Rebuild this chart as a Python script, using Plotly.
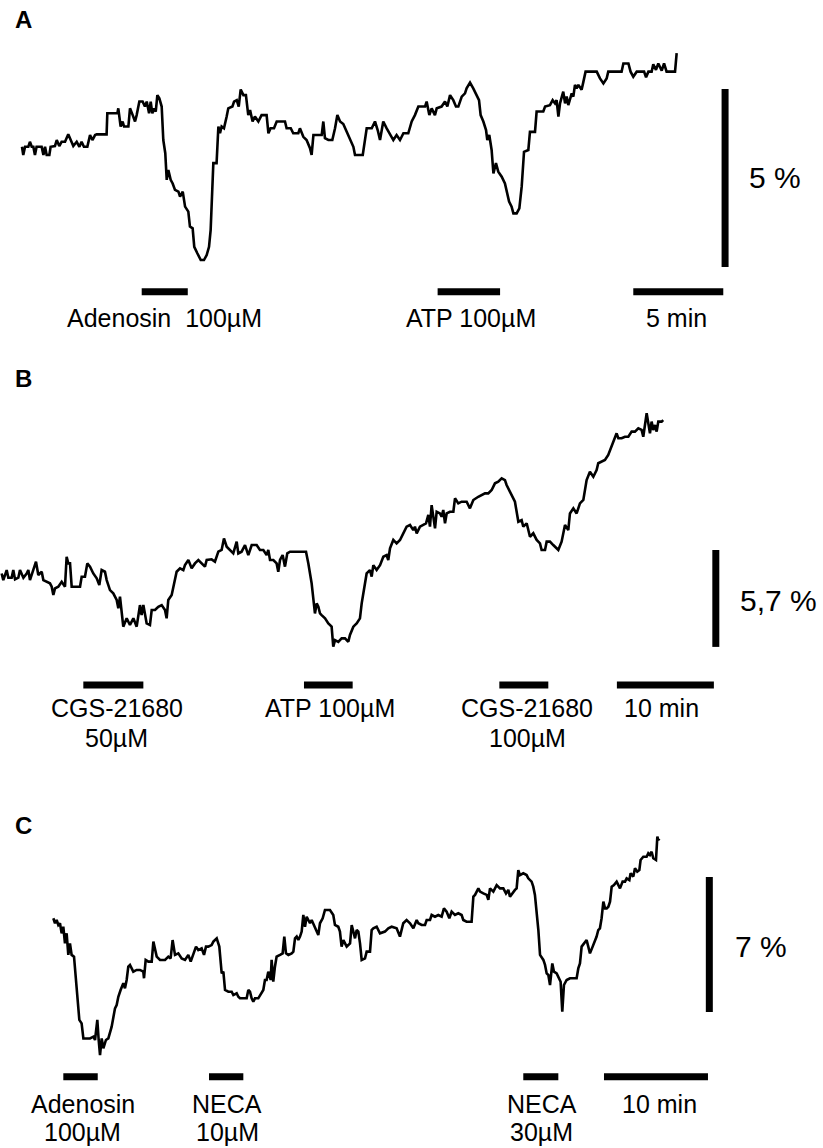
import plotly.graph_objects as go

FONT = "Liberation Sans, Arial, sans-serif"

# ---------------- Panel A : time (min), signal (%) ----------------
a_trace = [(0.0,0.09),(0.07,-0.14),(0.17,0.09),(0.35,0.09),(0.44,0.23),(0.54,0.09),(0.63,0.09),(0.72,-0.14),
(0.81,0.09),(1.09,0.09),(1.19,-0.14),(1.28,0.09),(1.37,-0.14),(1.52,-0.14),(1.59,0.09),(1.83,0.11),(1.93,0.28),
(2.07,0.11),(2.20,0.23),(2.39,0.23),(2.57,0.44),(2.70,0.28),(2.85,0.11),(3.04,0.23),(3.19,0.09),(3.31,0.23),
(3.44,0.09),(3.63,0.09),(3.78,0.42),(3.91,0.28),(4.06,0.42),(4.15,0.44),(4.70,0.44),(4.74,1.03),(5.30,1.03),
(5.35,1.17),(5.48,0.66),(5.59,0.80),(5.67,0.66),(5.91,0.66),(6.00,1.17),(6.15,0.98),(6.28,0.80),(6.37,0.98),
(6.52,1.36),(6.70,1.36),(6.83,1.22),(6.93,1.36),(7.06,1.03),(7.15,1.36),(7.24,1.03),(7.33,1.17),(7.43,1.08),
(7.52,1.54),(7.63,1.45),(7.76,1.22),(7.85,0.28),(7.96,-0.09),(8.04,-0.84),(8.13,-0.56),(8.26,-0.84),(8.37,-0.94),
(8.50,-1.12),(8.69,-1.17),(8.78,-1.31),(8.93,-1.17),(9.06,-1.59),(9.24,-1.73),(9.33,-2.15),(9.48,-2.20),
(9.57,-2.72),(9.74,-2.90),(9.93,-3.09),(10.11,-3.09),(10.26,-2.95),(10.39,-2.72),(10.48,-2.25),(10.63,-0.37),
(10.81,-0.37),(10.91,0.66),(11.00,0.47),(11.09,0.66),(11.22,0.61),(11.37,0.94),(11.46,1.17),(11.69,1.22),
(11.78,1.36),(11.93,1.40),(12.04,1.22),(12.15,1.70),(12.30,1.54),(12.44,1.54),(12.57,0.98),(12.67,1.12),
(12.81,0.80),(12.94,0.94),(13.13,0.80),(13.31,0.98),(13.59,0.98),(13.69,0.47),(13.81,0.61),(14.00,0.61),
(14.15,0.80),(14.61,0.80),(14.70,0.61),(14.93,0.61),(15.07,0.47),(15.35,0.47),(15.44,0.61),(15.63,0.37),
(15.81,0.28),(16.00,0.05),(16.09,-0.14),(16.19,0.42),(16.65,0.42),(16.74,0.80),(16.83,0.33),(17.02,0.28),
(17.24,0.28),(17.39,0.61),(17.52,0.98),(17.67,0.80),(17.85,0.73),(18.04,0.51),(18.22,0.28),(18.41,0.09),
(18.50,-0.14),(18.93,-0.14),(19.15,0.61),(19.43,0.61),(19.61,0.80),(19.76,0.56),(19.89,0.28),(20.07,0.80),
(20.26,0.61),(20.48,0.42),(20.63,0.28),(20.81,0.42),(21.00,0.28),(21.19,0.47),(21.46,0.47),(21.65,0.80),
(21.83,0.98),(22.02,1.22),(22.39,1.22),(22.48,1.36),(22.63,0.98),(22.76,1.17),(22.94,0.98),(23.04,1.17),
(23.31,1.22),(23.50,1.36),(23.63,1.22),(23.78,1.54),(23.96,1.40),(24.11,1.22),(24.24,1.22),(24.43,1.50),
(24.61,1.59),(24.70,1.73),(24.89,1.89),(25.07,1.73),(25.26,1.54),(25.39,1.40),(25.48,0.98),(25.63,0.80),
(25.78,0.56),(25.85,0.28),(25.96,0.42),(26.09,0.0),(26.19,-0.66),(26.33,-0.37),(26.46,-0.61),(26.65,-0.75),
(26.83,-0.94),(26.96,-1.26),(27.06,-1.45),(27.20,-1.59),(27.30,-1.78),(27.48,-1.78),(27.63,-1.64),(27.76,-1.03),
(27.89,-0.05),(28.13,0.0),(28.22,0.51),(28.50,0.51),(28.59,1.08),(28.96,1.08),(29.06,1.22),(29.33,1.26),
(29.48,1.40),(29.61,1.31),(29.70,1.40),(29.80,0.94),(29.89,1.31),(30.07,1.64),(30.17,1.31),(30.26,1.50),
(30.35,1.26),(30.54,1.59),(30.63,1.50),(30.72,1.83),(30.81,1.73),(30.91,1.83),(31.09,1.69),(31.19,1.92),
(31.31,2.20),(31.93,2.20),(32.11,2.01),(32.30,1.87),(32.48,2.01),(32.57,2.20),(33.31,2.20),(33.41,2.43),
(33.69,2.43),(33.81,2.20),(33.96,2.06),(34.15,2.20),(34.56,2.20),(34.67,2.04),(34.80,2.20),(34.98,2.20),
(35.07,2.41),(35.22,2.25),(35.35,2.43),(35.54,2.23),(35.67,2.43),(35.81,2.20),(36.28,2.20),(36.37,2.72)]

a_drugs = [(6.65, 9.21), (23.09, 26.56)]          # application periods (min)
a_bar_level = -3.98
a_time_bar = (33.96, 5.0)                          # start (min), length (min)
a_amp_bar = (39.06, 1.71, 5.0)                     # position (min), top (%), length (%)
a_labels = [("Adenosin  100µM", 7.94, -4.71), ("ATP 100µM", 24.93, -4.71),
            ("5 min", 36.37, -4.71)]
a_amp_label = ("5 %", 41.83, -0.77)
a_letter = ("A", 0.08, 3.67)

# ---------------- Panel B ----------------
b_trace = [(0.17,0.27),(0.34,-0.12),(0.69,0.47),(0.86,0.02),(1.20,0.02),(1.37,0.47),(1.55,-0.08),(1.89,0.02),
(2.06,0.47),(2.41,0.02),(2.75,0.27),(2.92,0.47),(3.09,-0.12),(3.44,0.47),(3.71,0.96),(3.95,0.18),(4.30,0.37),
(4.47,-0.12),(4.81,-0.22),(5.15,-0.31),(5.33,-0.51),(5.50,-1.00),(5.67,-0.61),(6.01,-0.51),(6.36,-0.22),
(6.70,-0.51),(6.87,1.25),(7.04,0.86),(7.22,0.86),(7.39,-0.51),(7.73,-0.51),(8.25,-0.51),(8.42,0.08),(8.76,0.08),
(9.00,0.86),(9.28,0.67),(9.62,0.27),(9.97,-0.02),(10.24,-0.41),(10.48,0.47),(10.82,0.37),(11.00,-0.12),
(11.34,-0.71),(11.68,-0.90),(12.03,-1.29),(12.20,-1.78),(12.37,-1.10),(12.54,-1.88),(12.71,-2.86),(13.06,-2.37),
(13.40,-2.76),(13.75,-2.37),(14.09,-2.86),(14.43,-1.59),(14.60,-2.18),(14.78,-1.59),(15.12,-2.67),(15.46,-2.76),
(15.64,-1.88),(15.98,-1.88),(16.32,-1.69),(16.67,-1.59),(17.01,-1.88),(17.18,-2.37),(17.35,-1.29),(17.70,-1.00),
(17.87,-0.51),(18.21,0.37),(18.56,0.57),(18.90,0.47),(19.07,0.76),(19.42,1.06),(19.76,0.57),(20.10,0.86),
(20.45,1.06),(20.79,0.86),(21.13,0.67),(21.31,1.06),(21.82,1.10),(22.16,0.96),(22.51,1.55),(22.85,1.65),
(23.09,2.33),(23.37,1.84),(23.71,1.65),(24.05,1.45),(24.40,2.14),(24.57,1.45),(24.91,1.55),(25.26,1.94),
(25.60,1.35),(25.95,1.94),(26.46,1.94),(26.80,1.65),(27.15,1.65),(27.49,1.35),(27.66,1.65),(27.84,1.06),
(28.18,1.06),(28.52,0.86),(28.69,0.37),(28.87,1.06),(29.14,1.35),(29.38,0.67),(29.62,1.45),(29.90,1.55),
(30.24,1.55),(30.58,1.55),(31.55,1.55),(31.79,0.86),(32.13,-0.31),(32.47,-2.08),(32.65,-1.49),(32.82,-1.69),
(32.99,-2.08),(33.16,-2.18),(33.51,-2.37),(33.85,-2.67),(34.19,-2.86),(34.36,-4.04),(34.54,-3.65),(34.88,-3.75),
(35.22,-3.55),(35.57,-3.55),(35.91,-3.75),(36.08,-3.35),(36.43,-2.86),(36.77,-2.67),(37.11,-2.37),(37.29,-1.49),
(37.63,-0.31),(37.80,0.27),(38.14,0.47),(38.32,0.08),(38.49,0.76),(38.83,0.47),(39.18,0.76),(39.52,1.25),
(39.86,1.35),(40.03,1.06),(40.21,1.75),(40.55,2.24),(40.89,2.04),(41.24,2.24),(41.58,2.63),(41.92,3.02),
(42.27,3.12),(42.61,2.82),(42.78,3.02),(42.96,2.63),(43.30,3.02),(43.64,3.12),(43.92,3.22),(44.16,3.71),
(44.33,3.02),(44.50,4.29),(44.67,3.61),(44.85,2.92),(45.02,3.90),(45.36,3.80),(45.53,3.61),(45.70,4.00),
(45.88,3.22),(46.05,3.80),(46.39,3.90),(46.74,3.90),(46.91,4.69),(47.25,4.39),(47.59,4.49),(48.11,4.49),
(48.45,4.10),(48.80,4.59),(49.31,4.78),(49.66,4.88),(50.00,4.98),(50.34,4.98),(50.69,5.18),(51.03,5.57),
(51.37,5.67),(51.72,5.86),(52.06,5.76),(52.23,5.47),(52.58,5.08),(52.92,4.69),(53.09,4.49),(53.44,3.31),
(53.78,3.41),(53.95,3.02),(54.30,3.22),(54.64,2.43),(54.98,2.63),(55.33,2.24),(55.67,2.04),(55.84,1.65),
(56.19,1.65),(56.36,2.14),(56.70,2.14),(57.04,1.94),(57.39,1.75),(57.56,1.65),(57.90,2.14),(58.25,3.12),
(58.59,2.82),(58.76,3.80),(59.11,4.10),(59.45,3.80),(59.79,4.39),(60.14,4.59),(60.48,5.76),(60.82,6.25),
(61.17,5.96),(61.51,6.35),(61.68,6.75),(62.03,6.84),(62.37,6.94),(62.71,7.24),(62.89,7.53),(63.23,8.02),
(63.57,8.51),(63.75,8.22),(64.09,8.22),(64.43,8.31),(64.78,8.31),(65.12,8.61),(65.46,8.61),(65.81,8.80),
(66.15,8.71),(66.32,8.31),(66.67,9.69),(66.84,9.10),(67.01,8.51),(67.18,9.20),(67.35,8.71),(67.53,9.00),
(67.70,8.61),(67.87,9.20),(68.21,9.20),(68.38,9.29)]

b_drugs = [(8.59, 14.78), (31.34, 36.36), (51.48, 56.53)]
b_bar_level = -6.29
b_time_bar = (63.6, 10.0)
b_amp_bar = (73.8, 1.65, 5.7)
b_labels = [("CGS-21680", 12.03, -7.62), ("50µM", 12.03, -9.38), ("ATP 100µM", 34.02, -7.62),
            ("CGS-21680", 54.30, -7.62), ("100µM", 54.35, -9.38), ("10 min", 68.25, -7.62)]
b_amp_label = ("5,7 %", 80.3, -1.34)
b_letter = ("B", 2.42, 11.76)

# ---------------- Panel C ----------------
c_trace = [(0.32,0.09),(0.48,-0.17),(0.64,0.0),(0.80,-0.26),(0.96,-0.17),(1.12,-0.69),(1.28,-0.35),(1.44,-1.21),
(1.60,-0.69),(1.76,-1.81),(1.92,-1.21),(2.08,-1.81),(2.31,-1.90),(2.50,-3.11),(2.63,-3.63),(2.82,-5.18),
(3.04,-5.36),(3.21,-6.14),(3.85,-6.14),(4.17,-6.05),(4.33,-6.22),(4.55,-5.18),(4.68,-6.22),(4.81,-7.00),
(4.97,-6.14),(5.13,-6.65),(5.38,-6.22),(5.61,-6.14),(5.93,-5.53),(6.25,-4.58),(6.41,-4.41),(6.57,-3.98),
(6.79,-3.63),(7.05,-3.28),(7.21,-3.54),(7.37,-3.11),(7.53,-2.42),(7.69,-2.33),(8.01,-2.68),(8.33,-2.59),
(8.65,-2.59),(8.97,-2.68),(9.04,-3.02),(9.20,-2.07),(9.46,-2.16),(9.78,-2.16),(9.94,-1.12),(10.10,-1.47),
(10.26,-1.90),(10.58,-2.07),(11.06,-2.07),(11.38,-1.90),(11.60,-1.99),(11.79,-1.04),(12.02,-1.81),(12.34,-1.73),
(12.66,-1.99),(12.98,-2.07),(13.30,-1.81),(13.53,-2.16),(13.78,-1.73),(14.04,-1.38),(14.26,-1.56),(14.58,-1.47),
(14.81,-1.81),(15.00,-1.38),(15.22,-1.38),(15.54,-1.30),(15.71,-1.12),(16.03,-0.95),(16.28,-1.38),(16.51,-2.77),
(16.67,-2.68),(16.83,-3.63),(17.15,-3.72),(17.47,-3.72),(17.63,-3.89),(17.95,-3.80),(18.11,-3.98),(18.27,-4.06),
(18.91,-4.06),(19.07,-3.63),(19.23,-3.72),(19.39,-4.06),(19.55,-4.23),(19.71,-4.06),(20.03,-4.06),(20.35,-3.72),
(20.51,-3.63),(20.67,-3.11),(20.83,-3.11),(20.99,-2.68),(21.22,-3.11),(21.31,-2.07),(21.47,-3.20),(21.63,-2.42),
(21.79,-1.90),(22.12,-1.81),(22.37,-1.73),(22.53,-0.86),(22.69,-1.73),(22.92,-1.81),(23.24,-1.73),(23.40,-1.64),
(23.56,-0.95),(23.72,-0.86),(23.88,-1.04),(24.04,-0.86),(24.20,-0.60),(24.36,0.26),(24.52,-0.35),(24.68,0.17),
(25.00,-0.17),(25.16,0.0),(25.48,-0.43),(25.80,-0.78),(25.96,-0.17),(26.22,0.09),(26.44,0.52),(26.92,0.52),
(27.24,0.26),(27.40,-0.26),(27.72,-0.35),(27.88,-0.60),(28.04,-1.38),(28.21,-1.04),(28.53,-1.38),(28.85,-1.21),
(29.01,-0.26),(29.17,-0.69),(29.33,-0.95),(29.49,-0.52),(29.65,-0.60),(29.81,-1.21),(29.97,-2.07),(30.29,-1.99),
(30.45,-1.64),(30.77,-1.64),(30.93,-0.52),(31.09,-0.43),(31.41,-0.35),(31.73,-0.69),(32.21,-0.60),(32.53,-0.43),
(32.85,-0.35),(33.33,-0.43),(33.65,-0.86),(33.97,-0.17),(34.29,0.0),(34.62,-0.17),(34.94,-0.43),(35.26,0.0),
(35.42,-0.17),(35.74,-0.26),(36.06,-0.26),(36.22,0.0),(36.54,0.0),(36.70,0.26),(37.02,0.17),(37.34,0.26),
(37.66,0.17),(37.88,0.60),(38.14,0.43),(38.40,0.09),(38.62,0.43),(38.94,0.26),(39.26,0.35),(39.58,0.26),
(39.74,0.0),(40.06,-0.09),(40.54,-0.09),(40.71,1.21),(40.87,1.30),(41.19,1.64),(41.35,1.47),(41.67,1.38),
(41.99,1.30),(42.15,1.04),(42.31,1.64),(42.63,1.47),(42.95,1.81),(43.27,1.64),(43.59,1.64),(43.85,1.38),
(44.07,1.56),(44.23,1.21),(44.55,1.47),(44.71,1.56),(44.87,1.64),(45.03,2.59),(45.19,2.33),(45.51,2.42),
(45.83,2.33),(45.99,2.16),(46.31,1.99),(46.47,1.73),(46.63,1.30),(46.79,0.52),(46.96,-0.52),(47.12,-1.81),
(47.44,-2.07),(47.60,-2.33),(47.76,-2.77),(47.92,-2.85),(48.08,-3.37),(48.30,-2.25),(48.46,-2.68),(48.72,-2.77),
(48.94,-3.02),(49.10,-3.20),(49.26,-4.75),(49.42,-3.37),(49.68,-3.11),(50.00,-3.02),(50.32,-3.02),(50.64,-3.02),
(50.80,-2.51),(50.96,-2.25),(51.12,-1.38),(51.44,-1.12),(51.60,-1.04),(51.76,-1.38),(51.92,-1.73),(52.18,-1.38),
(52.40,-1.12),(52.56,-0.86),(52.72,-0.52),(52.88,-0.43),(53.04,0.09),(53.21,0.95),(53.37,0.60),(53.53,0.60),
(53.69,0.69),(53.85,0.95),(54.01,1.73),(54.23,1.81),(54.49,1.99),(54.65,1.81),(54.81,1.64),(55.06,1.99),
(55.29,1.99),(55.45,2.16),(55.71,2.07),(55.83,2.42),(56.09,2.25),(56.25,2.68),(56.47,2.51),(56.67,2.59),
(56.79,3.11),(57.05,3.28),(57.37,3.28),(57.53,3.46),(57.69,3.37),(57.85,3.54),(58.01,3.20),(58.27,3.11),
(58.40,4.32),(58.49,4.15),(58.59,4.23)]

c_drugs = [(1.28, 4.59), (15.29, 18.59), (45.51, 48.88)]
c_bar_level = -8.12
c_time_bar = (53.27, 10.0)
c_amp_bar = (63.4, 2.23, 7.0)
c_labels = [("Adenosin", 3.13, -9.54), ("100µM", 3.13, -10.97), ("NECA", 17.02, -9.54),
            ("10µM", 17.05, -10.97), ("NECA", 47.31, -9.54), ("30µM", 47.30, -10.97),
            ("10 min", 58.56, -9.54)]
c_amp_label = ("7 %", 68.37, -1.38)
c_letter = ("C", -2.55, 4.92)

# axis windows (min / %) for each panel
a_xrange, a_yrange = [-1.222, 44.50], [-5.337, 4.213]
b_xrange, b_yrange = [0.0, 84.85], [-11.29, 14.0]
c_xrange, c_yrange = [-4.808, 74.33], [-11.82, 7.776]

fig = go.Figure()
annotations = []

panels = [
    ("x", "y", a_trace, a_drugs, a_bar_level, a_time_bar, a_amp_bar, a_labels, a_amp_label, a_letter),
    ("x2", "y2", b_trace, b_drugs, b_bar_level, b_time_bar, b_amp_bar, b_labels, b_amp_label, b_letter),
    ("x3", "y3", c_trace, c_drugs, c_bar_level, c_time_bar, c_amp_bar, c_labels, c_amp_label, c_letter),
]

for xa, ya, tr, drugs, lvl, tbar, abar, labels, alab, letter in panels:
    t, v = zip(*tr)
    fig.add_trace(go.Scatter(x=list(t), y=list(v), mode="lines", xaxis=xa, yaxis=ya,
                             line=dict(color="black", width=2.6), hoverinfo="skip", showlegend=False))
    for s, e in drugs + [(tbar[0], tbar[0] + tbar[1])]:
        fig.add_trace(go.Scatter(x=[s, e], y=[lvl, lvl], mode="lines", xaxis=xa, yaxis=ya,
                                 line=dict(color="black", width=7), hoverinfo="skip", showlegend=False))
    fig.add_trace(go.Scatter(x=[abar[0], abar[0]], y=[abar[1], abar[1] - abar[2]], mode="lines",
                             xaxis=xa, yaxis=ya, line=dict(color="black", width=7),
                             hoverinfo="skip", showlegend=False))
    for txt, tx, ty in labels:
        annotations.append(dict(text=txt, x=tx, y=ty, xref=xa, yref=ya, showarrow=False,
                                xanchor="center", yanchor="middle",
                                font=dict(family=FONT, size=25, color="black")))
    annotations.append(dict(text=alab[0], x=alab[1], y=alab[2], xref=xa, yref=ya, showarrow=False,
                            xanchor="center", yanchor="middle",
                            font=dict(family=FONT, size=30, color="black")))
    annotations.append(dict(text="<b>%s</b>" % letter[0], x=letter[1], y=letter[2], xref=xa, yref=ya,
                            showarrow=False, xanchor="center", yanchor="middle",
                            font=dict(family=FONT, size=24, color="black")))

hidden = dict(visible=False, showgrid=False, zeroline=False, fixedrange=True)
fig.update_layout(
    width=823, height=1148, autosize=False,
    margin=dict(l=0, r=0, t=0, b=0),
    paper_bgcolor="white", plot_bgcolor="white",
    showlegend=False,
    xaxis=dict(domain=[0, 1], range=a_xrange, anchor="y", **hidden),
    yaxis=dict(domain=[0.70383, 1], range=a_yrange, anchor="x", **hidden),
    xaxis2=dict(domain=[0, 1], range=b_xrange, anchor="y2", **hidden),
    yaxis2=dict(domain=[0.32927, 0.70383], range=b_yrange, anchor="x2", **hidden),
    xaxis3=dict(domain=[0, 1], range=c_xrange, anchor="y3", **hidden),
    yaxis3=dict(domain=[0, 0.32927], range=c_yrange, anchor="x3", **hidden),
    annotations=annotations,
)

fig.write_html("out.html", config={"displayModeBar": False})
